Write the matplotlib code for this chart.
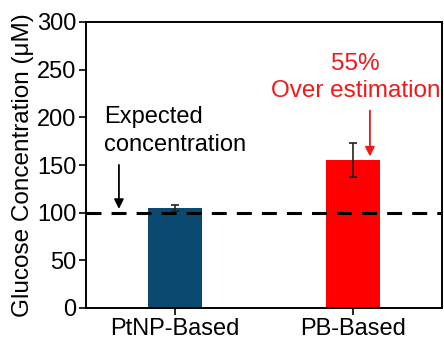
import matplotlib.pyplot as plt
import numpy as np

plt.rcParams['font.family'] = ['Liberation Sans', 'DejaVu Sans']

# data
methods = ['PtNP-Based', 'PB-Based']
glucose = [105, 155]
errors = [3, 18]
bar_colors = ['#0a4a70', '#ff0000']
expected = 100
yticks = [0, 50, 100, 150, 200, 250, 300]

fig = plt.figure(figsize=(4.44, 3.39), dpi=100)
ax = fig.add_axes([86/444, 1 - 308/339, 356/444, 286/339])

x = np.arange(len(methods))
ax.bar(x, glucose, width=0.3, color=bar_colors, zorder=2)
ax.errorbar(x, glucose, yerr=errors, fmt='none', ecolor='#222222',
            elinewidth=1.2, capsize=3, capthick=1.2, zorder=3)
ax.axhline(expected, color='black', lw=2.2, dashes=(4.9, 3.3), zorder=4)

ax.set_xlim(-0.5, 1.5)
ax.set_ylim(0, 300)
ax.set_xticks(x)
ax.set_xticklabels(methods, fontsize=17)
ax.set_yticks(yticks)
ax.tick_params(axis='y', labelsize=17, length=5, width=1.2, pad=2)
ax.tick_params(axis='x', length=5, width=1.2, pad=2)
ax.set_ylabel('Glucose Concentration (μM)', fontsize=17.5, labelpad=2)
for s in ax.spines.values():
    s.set_linewidth(1.4)

ax.text(-0.4, 212, 'Expected\nconcentration', fontsize=17, ha='left', va='top',
        linespacing=1.35)
ax.annotate('', xy=(-0.315, expected + 1), xytext=(-0.315, 153),
            arrowprops=dict(arrowstyle='-|>', color='black', lw=1.3,
                            mutation_scale=14))

ax.text(1.015, 268, '55%\nOver estimation', fontsize=17.5, ha='center', va='top',
        color='#f01818', linespacing=1.3)
ax.annotate('', xy=(1.095, glucose[1] + 1), xytext=(1.095, 210),
            arrowprops=dict(arrowstyle='-|>', color='#f01818', lw=1.3,
                            mutation_scale=14))

fig.savefig('out.png', dpi=100)
